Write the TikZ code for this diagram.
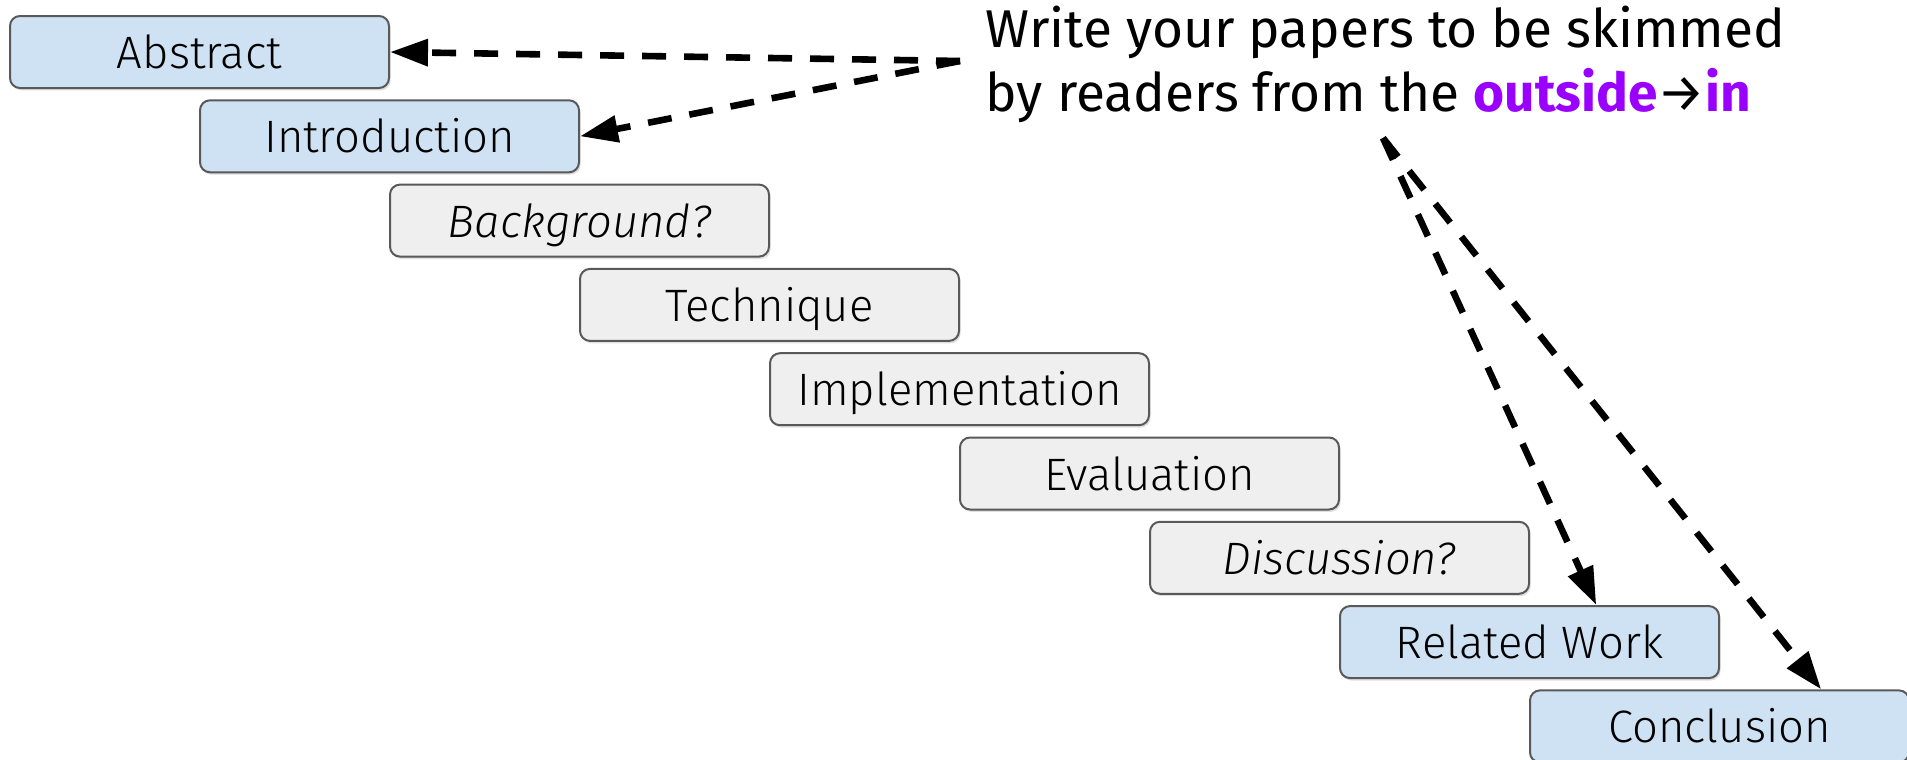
\documentclass[tikz,border=0pt]{standalone}
\usepackage{fontspec}
\setmainfont{Fira Sans}
\newfontfamily\lightfont{Fira Sans Light}[ItalicFont={Fira Sans Light Italic}]
\usetikzlibrary{arrows.meta,shadows,positioning}
\definecolor{secblue}{HTML}{CFE2F3}
\definecolor{secgray}{HTML}{EFEFEF}
\definecolor{secedge}{HTML}{595959}
\definecolor{skimpurple}{HTML}{9900FF}
\tikzset{
  section/.style={rectangle, rounded corners=5pt, draw=secedge, line width=1pt,
                  minimum width=189.5pt, minimum height=36pt, inner sep=0pt,
                  text height=18pt, text depth=1.5pt,
                  font=\lightfont\fontsize{22.7}{27}\selectfont,
                  drop shadow={shadow xshift=0.8pt, shadow yshift=-1.2pt, opacity=0.25}},
  outer/.style={section, fill=secblue},
  inner/.style={section, fill=secgray},
  skim/.style={draw, line width=3.3pt, dash pattern=on 12pt off 9pt,
               -{Triangle[length=19pt,width=13pt]}}
}

\begin{document}
\begin{tikzpicture}[x=0.5pt,y=-0.5pt]
\useasboundingbox (0,0) rectangle (1907,760);
% sections of a paper, stepping down
\node[outer] (abs)   at (199.5,52)   {Abstract};
\node[outer] (intro) at (389.5,136.3) {Introduction};
\node[inner] (back)  at (579.5,220.6) {\itshape Background?};
\node[inner] (tech)  at (769.5,304.9) {Technique};
\node[inner] (impl)  at (959.5,389.2) {Implementation};
\node[inner] (eval)  at (1149.5,473.5) {Evaluation};
\node[inner] (disc)  at (1339.5,557.8) {\itshape Discussion?};
\node[outer] (rel)   at (1529.5,642.1) {Related Work};
\node[outer] (con)   at (1719.5,726.4) {Conclusion};
% the message
\node[anchor=north west, align=left, inner sep=0pt,
      font=\fontsize{26.6}{31.6}\selectfont] (msg) at (985,6)
  {Write your papers to be skimmed\\
   by readers from the \textcolor{skimpurple}{\textbf{outside}}→\textcolor{skimpurple}{\textbf{in}}};
\coordinate (fromtop) at (960,61);
\coordinate (frombottom) at (1383,138);
\draw[skim] (fromtop) -- (abs.east);
\draw[skim] (fromtop) -- (intro.east);
\draw[skim] (frombottom) -- (rel.29);
\draw[skim] (frombottom) -- (con.20);
\end{tikzpicture}
\end{document}
